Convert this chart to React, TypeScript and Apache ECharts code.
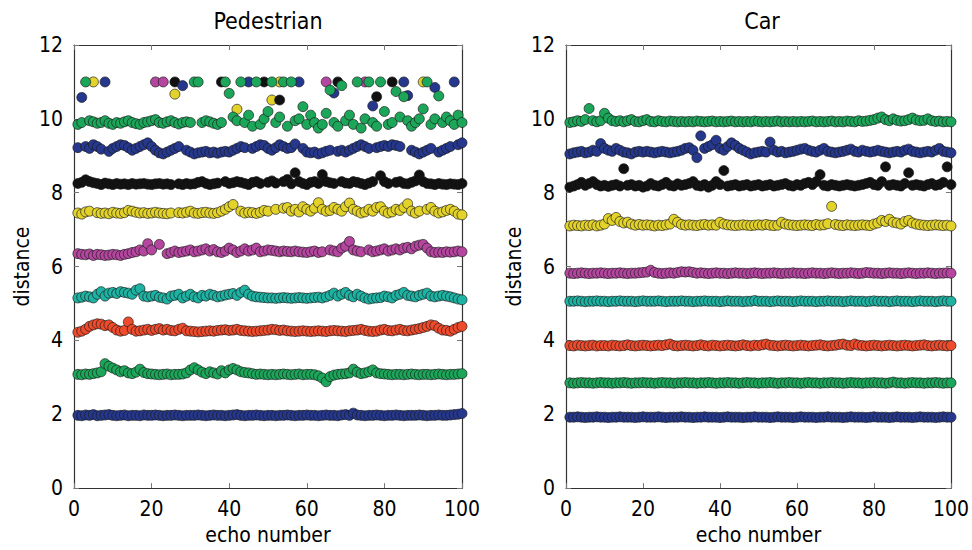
import React, { useEffect, useRef } from "react";
import * as echarts from "echarts";

const panelTitles = ["Pedestrian", "Car"];
const xTicks = [0, 20, 40, 60, 80, 100];
const yTicks = [0, 2, 4, 6, 8, 10, 12];
const seriesColors = ["#25388d", "#1ca65a", "#ee4a2c", "#1db2a1", "#b4469f", "#e2d22a", "#111111", "#25388d", "#1ca65a"];

// Pedestrian panel (echo 1..100)
const pedNavy = [
  1.97,1.96,1.98,1.97,1.99,1.96,1.97,1.98,1.99,1.97,
  1.96,1.97,1.98,1.96,1.97,1.97,1.96,1.98,1.97,1.97,
  1.98,1.97,1.96,1.97,1.97,1.98,1.97,1.96,1.97,1.97,
  1.97,1.98,1.97,1.96,1.97,1.98,1.97,1.97,1.96,1.97,
  1.98,1.99,1.97,1.96,1.97,1.97,1.98,1.97,1.96,1.97,
  1.97,1.96,1.97,1.97,1.98,1.97,1.96,1.97,1.97,1.98,
  1.97,1.97,1.96,1.97,1.98,1.97,1.97,1.96,1.98,1.99,
  1.97,2.03,1.98,1.97,1.96,1.97,1.97,1.98,1.97,1.96,
  1.97,1.97,1.98,1.97,1.96,1.97,1.97,1.97,1.98,1.97,
  1.96,1.97,1.97,1.98,1.97,1.97,1.98,1.99,2.0,2.02
];
const pedGreenLow = [
  3.08,3.07,3.09,3.08,3.1,3.12,3.15,3.37,3.3,3.25,
  3.2,3.15,3.18,3.12,3.1,3.14,3.22,3.13,3.1,3.09,
  3.08,3.07,3.08,3.09,3.07,3.08,3.08,3.09,3.12,3.2,
  3.26,3.2,3.14,3.1,3.15,3.12,3.09,3.18,3.12,3.2,
  3.24,3.2,3.15,3.13,3.12,3.1,3.08,3.09,3.08,3.07,
  3.08,3.07,3.08,3.09,3.08,3.07,3.08,3.09,3.07,3.08,
  3.08,3.07,3.04,2.98,2.88,3.02,3.06,3.08,3.09,3.1,
  3.12,3.22,3.14,3.1,3.12,3.15,3.2,3.12,3.1,3.09,
  3.08,3.07,3.08,3.08,3.07,3.08,3.09,3.08,3.07,3.08,
  3.08,3.07,3.08,3.09,3.08,3.07,3.08,3.08,3.09,3.1
];
const pedRed = [
  4.22,4.25,4.3,4.38,4.42,4.45,4.44,4.4,4.42,4.35,
  4.28,4.25,4.27,4.5,4.3,4.25,4.26,4.28,4.3,4.27,
  4.3,4.32,4.28,4.3,4.27,4.26,4.3,4.33,4.26,4.25,
  4.24,4.23,4.24,4.25,4.26,4.25,4.27,4.28,4.29,4.27,
  4.28,4.3,4.27,4.26,4.25,4.24,4.25,4.26,4.27,4.28,
  4.3,4.29,4.27,4.28,4.26,4.25,4.24,4.25,4.26,4.25,
  4.24,4.25,4.26,4.25,4.24,4.26,4.27,4.26,4.25,4.24,
  4.26,4.27,4.28,4.3,4.27,4.25,4.24,4.25,4.28,4.3,
  4.27,4.26,4.28,4.3,4.27,4.26,4.28,4.3,4.32,4.35,
  4.38,4.42,4.4,4.33,4.28,4.27,4.25,4.3,4.35,4.38
];
const pedTeal = [
  5.15,5.17,5.2,5.18,5.15,5.25,5.32,5.2,5.28,5.3,
  5.27,5.32,5.3,5.28,5.25,5.36,5.4,5.2,5.18,5.2,
  5.22,5.17,5.15,5.12,5.2,5.22,5.25,5.15,5.2,5.25,
  5.18,5.15,5.22,5.2,5.25,5.22,5.18,5.2,5.23,5.25,
  5.27,5.22,5.3,5.36,5.25,5.2,5.18,5.17,5.16,5.15,
  5.15,5.14,5.15,5.16,5.15,5.14,5.15,5.16,5.15,5.14,
  5.15,5.16,5.17,5.15,5.18,5.22,5.28,5.2,5.25,5.3,
  5.22,5.18,5.25,5.2,5.15,5.12,5.14,5.15,5.16,5.2,
  5.18,5.15,5.22,5.25,5.3,5.22,5.2,5.18,5.22,5.25,
  5.28,5.2,5.18,5.2,5.22,5.2,5.18,5.15,5.12,5.1
];
const pedMagenta = [
  6.35,6.33,6.32,6.34,6.3,6.33,6.32,6.3,6.31,6.33,
  6.32,6.3,6.33,6.35,6.38,6.4,6.45,6.42,6.62,6.45,
  11,6.6,11,6.35,6.38,6.42,6.38,6.4,6.42,6.45,
  6.4,6.42,6.45,6.48,6.42,6.46,6.4,6.38,6.42,6.5,
  6.45,6.38,6.42,6.48,6.42,6.45,6.5,6.4,6.42,6.45,
  6.44,6.42,6.4,6.42,6.41,6.4,6.42,6.4,6.39,6.38,
  6.4,6.42,6.38,6.4,11,6.45,6.42,6.4,6.5,6.55,
  6.68,6.45,6.42,6.4,11,6.45,6.4,6.42,6.45,6.48,
  6.42,6.45,6.48,6.45,6.5,6.52,6.48,6.55,6.58,6.6,
  6.5,6.4,6.38,6.39,6.38,6.4,6.39,6.4,6.42,6.4
];
const pedYellow = [
  7.45,7.42,7.48,7.5,11,7.46,7.44,7.45,7.43,7.47,
  7.45,7.44,7.46,7.52,7.5,7.47,7.45,7.46,7.44,7.45,
  7.47,7.45,7.44,7.43,7.45,10.67,7.46,7.45,7.47,7.5,
  7.45,7.44,7.46,7.47,7.45,7.44,7.46,7.5,7.55,7.62,
  7.68,10.26,7.5,7.45,7.47,7.46,7.44,7.47,7.52,7.5,
  10.51,7.55,11,7.58,7.6,7.5,7.55,7.48,7.62,7.55,
  7.5,7.58,7.73,7.55,7.5,7.52,7.6,7.55,7.5,7.62,
  7.72,7.55,7.5,7.45,7.48,7.55,7.5,7.6,7.62,7.5,
  7.45,7.48,7.55,7.52,7.6,7.7,7.5,7.45,7.5,11,
  7.55,7.6,7.5,7.45,7.48,7.52,7.55,7.5,7.42,7.4
];
const pedBlack = [
  8.25,8.28,8.35,8.3,8.27,8.25,8.22,8.26,8.24,8.22,
  8.25,8.23,8.24,8.22,8.25,8.23,8.24,8.25,8.23,8.22,
  8.24,8.25,8.23,8.24,8.22,11,8.24,8.22,8.25,8.23,
  8.24,8.28,8.3,8.25,8.22,8.24,8.26,11,8.3,8.25,
  8.27,8.3,8.28,8.25,8.22,8.28,8.3,8.25,11,8.28,
  8.32,8.26,10.51,8.3,8.36,8.24,8.54,8.3,8.25,8.22,
  8.28,8.3,8.25,8.49,8.3,8.27,8.25,11,8.3,8.26,
  8.25,8.3,8.28,8.25,8.22,8.26,8.3,10.6,8.46,8.3,
  8.25,11,8.28,8.3,8.25,8.24,8.28,8.32,8.48,8.3,
  8.25,8.24,8.22,8.25,8.23,8.22,8.24,8.23,8.22,8.25
];
const pedBlue = [
  9.22,10.58,9.25,9.2,9.3,9.25,9.18,11,9.12,9.2,
  9.25,9.3,9.28,9.22,9.15,9.2,9.25,9.3,9.35,9.25,
  9.15,9.08,9.05,9.1,9.15,9.2,9.25,10.9,9.15,9.1,
  9.05,9.08,9.1,9.12,9.08,9.1,9.07,9.1,9.12,9.1,
  9.15,9.2,9.25,9.22,11,9.2,9.25,9.3,9.28,9.2,
  9.15,9.22,9.3,9.25,9.2,9.22,9.32,11,9.2,9.1,
  9.08,9.1,9.05,9.08,9.12,9.15,10.7,9.12,9.15,9.1,
  9.15,9.2,9.25,9.3,9.25,9.2,10.35,9.22,9.25,9.28,
  9.25,9.3,9.28,9.25,11,10.63,9.15,9.1,9.05,9.1,
  9.15,9.2,10.85,9.1,9.15,9.2,9.25,11,9.3,9.35
];
const pedGreenHigh = [
  9.85,9.9,11,9.95,9.92,9.88,9.9,9.95,9.88,9.85,
  9.9,9.88,9.92,9.95,9.9,9.87,9.85,9.9,9.92,9.95,
  9.98,9.9,9.88,9.92,9.95,9.9,9.86,9.9,9.92,9.9,
  11,11,9.9,9.95,9.92,9.88,9.85,9.9,11,10.69,
  10.05,9.95,11,9.9,10.1,9.8,11,9.85,10.0,10.2,
  11,9.9,10.05,11,9.8,11,9.95,10.0,10.33,9.85,
  10.1,9.9,9.75,9.85,10.15,10.78,9.9,9.8,10.9,9.95,
  10.1,9.85,11,9.75,10.0,11,9.9,9.8,11,10.2,
  9.85,9.9,10.74,10.05,10.6,9.95,9.8,9.9,10.0,10.27,
  11,9.85,10.0,10.62,9.9,10.05,9.95,9.85,10.1,9.9
];

// Car panel (echo 1..100)
const carNavy = [
  1.92,1.92,1.93,1.92,1.91,1.92,1.92,1.93,1.92,1.92,
  1.91,1.92,1.92,1.93,1.92,1.92,1.92,1.91,1.92,1.93,
  1.92,1.92,1.92,1.93,1.92,1.91,1.92,1.92,1.92,1.93,
  1.92,1.92,1.91,1.92,1.92,1.93,1.92,1.92,1.92,1.91,
  1.92,1.93,1.92,1.92,1.92,1.91,1.92,1.92,1.93,1.92,
  1.92,1.92,1.91,1.92,1.93,1.92,1.92,1.92,1.91,1.92,
  1.93,1.92,1.92,1.92,1.91,1.92,1.92,1.93,1.92,1.92,
  1.92,1.91,1.92,1.93,1.92,1.92,1.92,1.91,1.92,1.93,
  1.92,1.92,1.92,1.91,1.92,1.93,1.92,1.92,1.92,1.91,
  1.92,1.93,1.92,1.92,1.92,1.91,1.92,1.93,1.92,1.92
];
const carGreenLow = [
  2.85,2.84,2.85,2.86,2.85,2.85,2.84,2.85,2.86,2.85,
  2.85,2.84,2.85,2.85,2.86,2.85,2.84,2.85,2.85,2.86,
  2.85,2.85,2.84,2.85,2.86,2.85,2.85,2.84,2.85,2.85,
  2.86,2.85,2.85,2.84,2.85,2.85,2.86,2.85,2.84,2.85,
  2.85,2.86,2.85,2.85,2.84,2.85,2.86,2.85,2.85,2.84,
  2.85,2.85,2.86,2.85,2.84,2.85,2.85,2.86,2.85,2.85,
  2.84,2.85,2.86,2.85,2.85,2.84,2.85,2.85,2.86,2.85,
  2.85,2.84,2.85,2.86,2.85,2.85,2.84,2.85,2.85,2.86,
  2.85,2.85,2.84,2.85,2.87,2.85,2.85,2.84,2.85,2.86,
  2.85,2.85,2.84,2.85,2.85,2.86,2.85,2.84,2.85,2.85
];
const carRed = [
  3.86,3.85,3.87,3.86,3.85,3.86,3.87,3.85,3.86,3.86,
  3.85,3.87,3.86,3.85,3.86,3.88,3.86,3.85,3.86,3.87,
  3.86,3.85,3.86,3.87,3.86,3.88,3.9,3.86,3.85,3.86,
  3.87,3.86,3.85,3.86,3.88,3.86,3.85,3.87,3.86,3.85,
  3.86,3.87,3.86,3.85,3.86,3.88,3.86,3.85,3.87,3.86,
  3.88,3.9,3.87,3.86,3.85,3.86,3.87,3.86,3.85,3.86,
  3.87,3.86,3.85,3.86,3.87,3.88,3.86,3.85,3.86,3.87,
  3.89,3.9,3.87,3.86,3.9,3.87,3.86,3.85,3.86,3.87,
  3.86,3.85,3.86,3.87,3.86,3.85,3.86,3.87,3.86,3.85,
  3.86,3.87,3.88,3.86,3.85,3.86,3.87,3.86,3.85,3.86
];
const carTeal = [
  5.06,5.06,5.07,5.06,5.05,5.06,5.06,5.07,5.06,5.06,
  5.05,5.06,5.06,5.07,5.06,5.06,5.06,5.05,5.06,5.07,
  5.06,5.06,5.06,5.07,5.06,5.05,5.06,5.06,5.06,5.07,
  5.06,5.06,5.05,5.06,5.06,5.07,5.06,5.06,5.06,5.05,
  5.06,5.07,5.06,5.06,5.06,5.05,5.06,5.06,5.08,5.06,
  5.06,5.06,5.05,5.06,5.07,5.06,5.06,5.06,5.05,5.06,
  5.07,5.06,5.06,5.06,5.05,5.06,5.06,5.07,5.06,5.06,
  5.06,5.05,5.06,5.07,5.06,5.06,5.06,5.05,5.06,5.07,
  5.06,5.06,5.06,5.05,5.06,5.07,5.06,5.06,5.06,5.05,
  5.06,5.07,5.06,5.06,5.06,5.05,5.06,5.07,5.06,5.06
];
const carMagenta = [
  5.82,5.81,5.82,5.83,5.82,5.81,5.82,5.82,5.83,5.82,
  5.81,5.82,5.82,5.83,5.82,5.81,5.82,5.82,5.83,5.84,
  5.85,5.9,5.84,5.82,5.81,5.82,5.83,5.82,5.84,5.86,
  5.85,5.86,5.84,5.82,5.83,5.82,5.81,5.82,5.83,5.82,
  5.82,5.81,5.82,5.83,5.82,5.82,5.81,5.82,5.83,5.82,
  5.81,5.82,5.82,5.83,5.82,5.81,5.82,5.82,5.83,5.82,
  5.82,5.81,5.82,5.83,5.82,5.82,5.81,5.82,5.83,5.82,
  5.81,5.82,5.82,5.83,5.82,5.81,5.82,5.84,5.83,5.82,
  5.82,5.81,5.82,5.83,5.82,5.82,5.81,5.82,5.83,5.82,
  5.81,5.82,5.82,5.83,5.82,5.81,5.82,5.82,5.83,5.82
];
const carYellow = [
  7.1,7.12,7.11,7.1,7.12,7.11,7.13,7.1,7.12,7.15,
  7.3,7.25,7.33,7.22,7.18,7.2,7.15,7.12,7.14,7.12,
  7.13,7.12,7.1,7.12,7.11,7.13,7.15,7.28,7.2,7.14,
  7.12,7.13,7.12,7.11,7.13,7.14,7.12,7.13,7.12,7.2,
  7.15,7.13,7.12,7.11,7.12,7.13,7.12,7.11,7.12,7.13,
  7.12,7.14,7.12,7.11,7.12,7.2,7.15,7.13,7.12,7.11,
  7.12,7.13,7.12,7.11,7.14,7.12,7.13,7.16,7.63,7.14,
  7.12,7.11,7.13,7.12,7.11,7.12,7.13,7.12,7.11,7.15,
  7.18,7.25,7.22,7.28,7.2,7.18,7.15,7.22,7.25,7.18,
  7.15,7.13,7.12,7.11,7.12,7.13,7.12,7.11,7.12,7.1
];
const carBlack = [
  8.15,8.18,8.22,8.28,8.2,8.25,8.3,8.22,8.18,8.2,
  8.17,8.2,8.22,8.18,8.65,8.2,8.22,8.18,8.2,8.15,
  8.18,8.25,8.2,8.18,8.22,8.28,8.2,8.18,8.24,8.2,
  8.22,8.25,8.3,8.2,8.18,8.22,8.15,8.2,8.3,8.22,
  8.6,8.18,8.2,8.22,8.18,8.2,8.22,8.18,8.2,8.22,
  8.18,8.2,8.22,8.18,8.2,8.22,8.25,8.2,8.18,8.22,
  8.2,8.25,8.28,8.22,8.3,8.49,8.2,8.18,8.22,8.2,
  8.18,8.2,8.22,8.2,8.18,8.2,8.22,8.25,8.28,8.22,
  8.2,8.3,8.7,8.2,8.22,8.2,8.18,8.25,8.54,8.2,
  8.22,8.2,8.18,8.22,8.25,8.2,8.22,8.28,8.7,8.22
];
const carBlue = [
  9.05,9.08,9.1,9.12,9.08,9.1,9.15,9.12,9.33,9.2,
  9.15,9.12,9.2,9.15,9.1,9.08,9.05,9.1,9.12,9.1,
  9.12,9.1,9.08,9.1,9.12,9.1,9.08,9.1,9.12,9.15,
  9.2,9.22,9.15,8.95,9.54,9.2,9.25,9.3,9.42,9.2,
  9.15,9.25,9.35,9.28,9.2,9.15,9.1,9.05,9.08,9.1,
  9.12,9.1,9.37,9.15,9.1,9.12,9.08,9.1,9.12,9.15,
  9.18,9.2,9.15,9.12,9.1,9.15,9.2,9.12,9.1,9.08,
  9.1,9.12,9.15,9.18,9.12,9.1,9.15,9.12,9.1,9.12,
  9.15,9.12,9.1,9.08,9.1,9.12,9.1,9.15,9.18,9.12,
  9.1,9.08,9.1,9.12,9.1,9.15,9.2,9.12,9.1,9.08
];
const carGreenHigh = [
  9.9,9.92,9.95,9.93,9.98,10.28,9.95,9.92,9.95,10.15,
  10.02,9.95,9.93,9.95,9.92,9.95,9.98,9.93,9.92,9.95,
  9.98,9.93,9.92,9.95,9.93,9.92,9.94,9.93,9.92,9.93,
  9.92,9.93,9.92,9.94,9.93,9.92,9.93,9.94,9.92,9.93,
  9.92,9.93,9.94,9.92,9.93,9.92,9.93,9.92,9.94,9.93,
  9.92,9.93,9.92,9.93,9.94,9.92,9.93,9.92,9.93,9.92,
  9.93,9.92,9.93,9.94,9.92,9.93,9.92,9.93,9.94,9.92,
  9.93,9.92,9.94,9.93,9.92,9.95,9.93,9.94,9.96,9.98,
  10.02,10.05,9.98,9.95,10.0,9.96,9.94,9.95,9.98,10.02,
  9.97,9.95,9.96,10.0,9.95,9.93,9.94,9.92,9.93,9.92
];

const pedSeries = [pedNavy, pedGreenLow, pedRed, pedTeal, pedMagenta, pedYellow, pedBlack, pedBlue, pedGreenHigh];
const carSeries = [carNavy, carGreenLow, carRed, carTeal, carMagenta, carYellow, carBlack, carBlue, carGreenHigh];

const FONT = "'DejaVu Sans Condensed', 'DejaVu Sans', sans-serif";

export default function App() {
  const ref = useRef<HTMLDivElement>(null);
  useEffect(() => {
    if (!ref.current) return;
    const chart = echarts.init(ref.current, null, { renderer: "svg" });
    const grids = [
      { left: 74, right: 510, top: 45, bottom: 60 },
      { left: 566, right: 18, top: 45, bottom: 60 },
    ];
    const xAxis: any[] = [];
    const yAxis: any[] = [];
    const lineStyle = { color: "#333", width: 1.2 };
    const tick = { show: true, inside: true, length: 5, lineStyle: { color: "#777" } };
    grids.forEach((_, g) => {
      xAxis.push({
        type: "value", gridIndex: g, min: xTicks[0], max: xTicks[xTicks.length - 1], interval: 20,
        position: "bottom", name: "echo number", nameLocation: "middle", nameGap: 35,
        nameTextStyle: { fontFamily: FONT, fontSize: 21, color: "#000" },
        axisLine: { show: true, onZero: false, lineStyle },
        axisTick: tick,
        axisLabel: { fontFamily: FONT, fontSize: 21, color: "#000", margin: 10 },
        splitLine: { show: false },
      });
      xAxis.push({
        type: "value", gridIndex: g, min: 0, max: 100, interval: 20, position: "top",
        axisLine: { show: true, onZero: false, lineStyle },
        axisTick: tick,
        axisLabel: { show: false }, splitLine: { show: false },
      });
      yAxis.push({
        type: "value", gridIndex: g, min: yTicks[0], max: yTicks[yTicks.length - 1], interval: 2,
        position: "left", name: "distance", nameLocation: "middle", nameGap: 42, nameRotate: 90,
        nameTextStyle: { fontFamily: FONT, fontSize: 21, color: "#000" },
        axisLine: { show: true, onZero: false, lineStyle },
        axisTick: tick,
        axisLabel: { fontFamily: FONT, fontSize: 21, color: "#000", margin: 11 },
        splitLine: { show: false },
      });
      yAxis.push({
        type: "value", gridIndex: g, min: 0, max: 12, interval: 2, position: "right",
        axisLine: { show: true, onZero: false, lineStyle },
        axisTick: tick,
        axisLabel: { show: false }, splitLine: { show: false },
      });
    });
    const series: any[] = [];
    [pedSeries, carSeries].forEach((set, g) => {
      set.forEach((vals, k) => {
        series.push({
          type: "scatter",
          xAxisIndex: 2 * g,
          yAxisIndex: 2 * g,
          symbol: "circle",
          symbolSize: 10,
          data: vals.map((v, i) => [i + 1, v]),
          itemStyle: { color: seriesColors[k], borderColor: "rgba(25,25,25,0.85)", borderWidth: 0.8, opacity: 1 },
          emphasis: { disabled: true },
        });
      });
    });
    chart.setOption({
      animation: false,
      backgroundColor: "#fff",
      grid: grids,
      xAxis,
      yAxis,
      series,
      graphic: [
        { type: "text", x: 268, y: 21, style: { text: panelTitles[0], font: `23px ${FONT}`, fill: "#000", textAlign: "center", textVerticalAlign: "middle" } },
        { type: "text", x: 762, y: 21, style: { text: panelTitles[1], font: `23px ${FONT}`, fill: "#000", textAlign: "center", textVerticalAlign: "middle" } },
      ],
    });
    return () => chart.dispose();
  }, []);
  return <div ref={ref} style={{ position: "absolute", left: 0, top: 0, width: 972, height: 550 }} />;
}
